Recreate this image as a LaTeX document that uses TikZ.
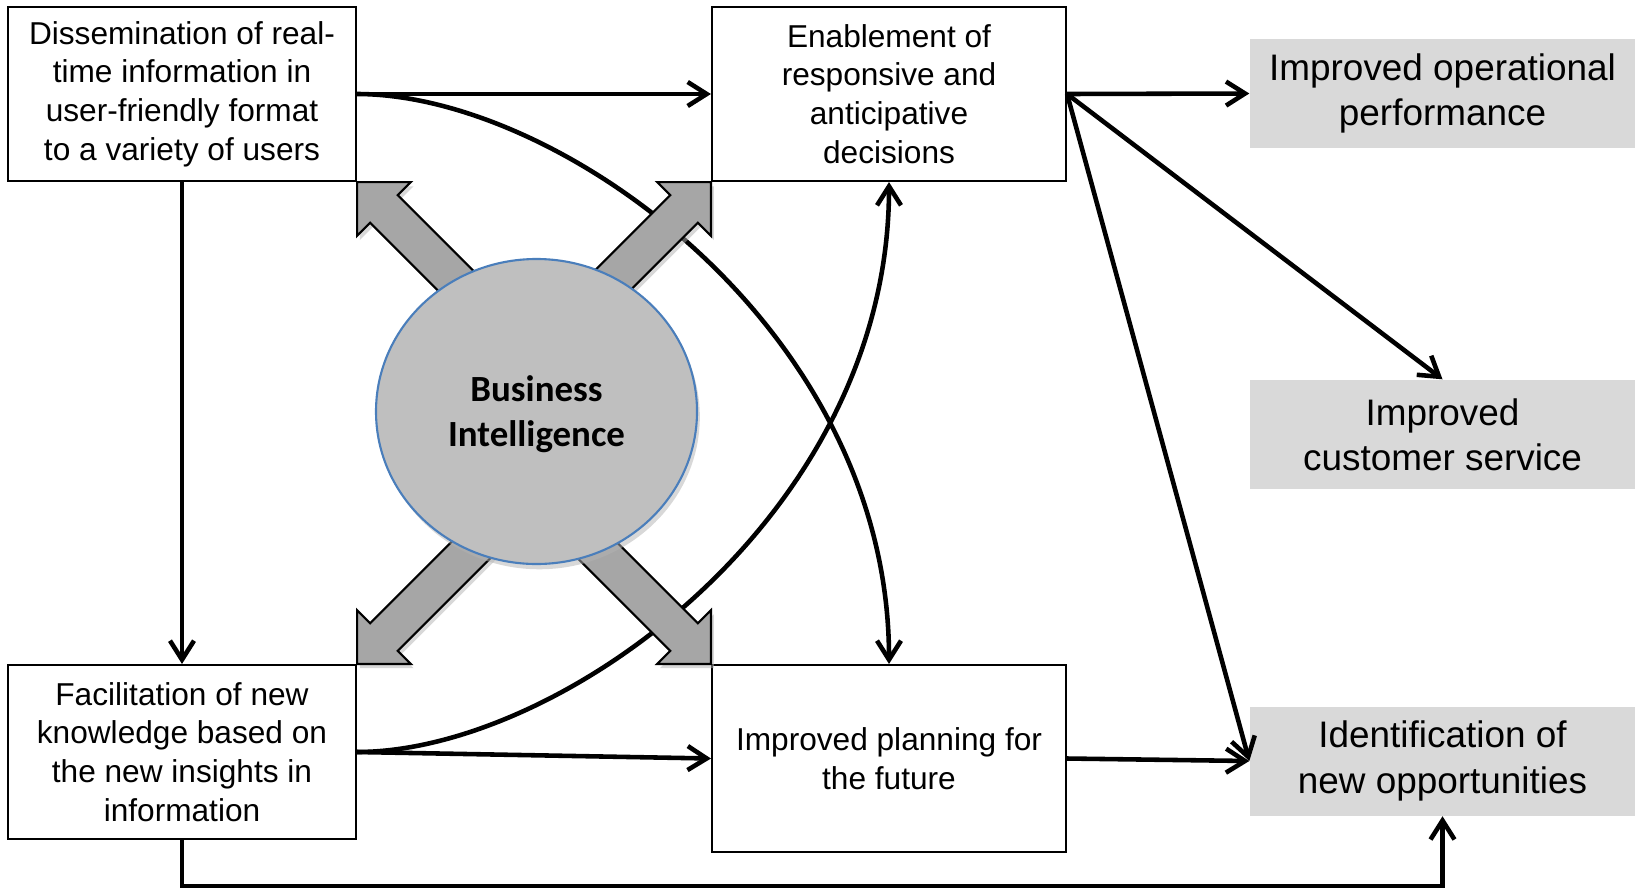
\documentclass[tikz,border=0pt]{standalone}
\usepackage{fontspec}
\setmainfont{Liberation Sans}
\newfontfamily\bifont{Carlito}
\usetikzlibrary{arrows.meta, shapes.geometric, shadows}
\definecolor{circleblue}{HTML}{4A7EBB}

\begin{document}
\begin{tikzpicture}[
		box/.style={draw, line width=0.6pt, align=center, inner sep=0pt, font=\fontsize{9}{11}\selectfont},
		outcome/.style={fill=black!15, minimum width=3.85cm, minimum height=1.09cm, align=center, inner sep=0pt, font=\fontsize{10.5}{12.9}\selectfont},
		conn/.style={line width=1.3pt, -{Straight Barb[length=1.9mm, width=2.4mm]}},
		bigarrow/.style={fill=black!35, draw=black, line width=0.6pt, drop shadow={shadow xshift=0.8pt, shadow yshift=-1.2pt, fill=black!30, opacity=0.5}}]
			\useasboundingbox (0,0) rectangle (16.35,-8.89);
			
			\node[box, minimum width=3.48cm, minimum height=1.74cm] (dissem) at (1.82,-0.94) {Dissemination of real-\\time information in\\user-friendly format\\to a variety of users};
			\node[box, minimum width=3.54cm, minimum height=1.74cm] (enable) at (8.89,-0.94) {Enablement of\\responsive and\\anticipative\\decisions};
			\node[box, minimum width=3.48cm, minimum height=1.74cm] (facil) at (1.82,-7.52) {Facilitation of new\\knowledge based on\\the new insights in\\information};
			\node[box, minimum width=3.54cm, minimum height=1.87cm] (planning) at (8.89,-7.585) {Improved planning for\\the future};
			
			\node[outcome] (operational) at (14.425,-0.935) {Improved operational\\performance};
			\node[outcome] (customer) at (14.425,-4.345) {Improved\\customer service};
			\node[outcome] (opportun) at (14.425,-7.61) {Identification of\\new opportunities};
			
			\draw[conn] (dissem.east) -- (enable.west);
			\draw[conn] (dissem.east) .. controls (5.6,-0.94) and (8.89,-3.3) .. (planning.north);
			\draw[conn] (facil.east) .. controls (5.6,-7.52) and (8.89,-5.16) .. (enable.south);
			\draw[conn] (dissem.south) -- (facil.north);
			\draw[conn] (facil.east) -- (planning.west);
			\draw[conn] (facil.south) -- ++(0,-0.46) -| (opportun.south);
			\draw[conn] (planning.east) -- (opportun.west);
			\draw[conn] (enable.east) -- (operational.west);
			\draw[conn] (enable.east) -- (customer.north);
			\draw[conn] (enable.east) -- (opportun.west);
			
			\foreach \corner/\ang in {dissem.south east/-45, enable.south west/-135, facil.north east/45, planning.north west/135}
				\draw[bigarrow, shift={(\corner)}, rotate=\ang] (0,0) -- (0.38,0.38) -- (0.38,0.195) -- (2.1,0.195) -- (2.1,-0.195) -- (0.38,-0.195) -- (0.38,-0.38) -- cycle;
			
			\node[ellipse, fill=black!25, draw=circleblue, line width=0.6pt, minimum width=3.21cm, minimum height=3.05cm, inner sep=0pt, align=center, drop shadow={shadow xshift=0.8pt, shadow yshift=-1.5pt, fill=black!30, opacity=0.5}, font=\bifont\bfseries\fontsize{10.5}{12.8}\selectfont] (bi) at (5.365,-4.115) {\rule{0pt}{9pt}Business\\Intelligence};
			
		\end{tikzpicture}
\end{document}
